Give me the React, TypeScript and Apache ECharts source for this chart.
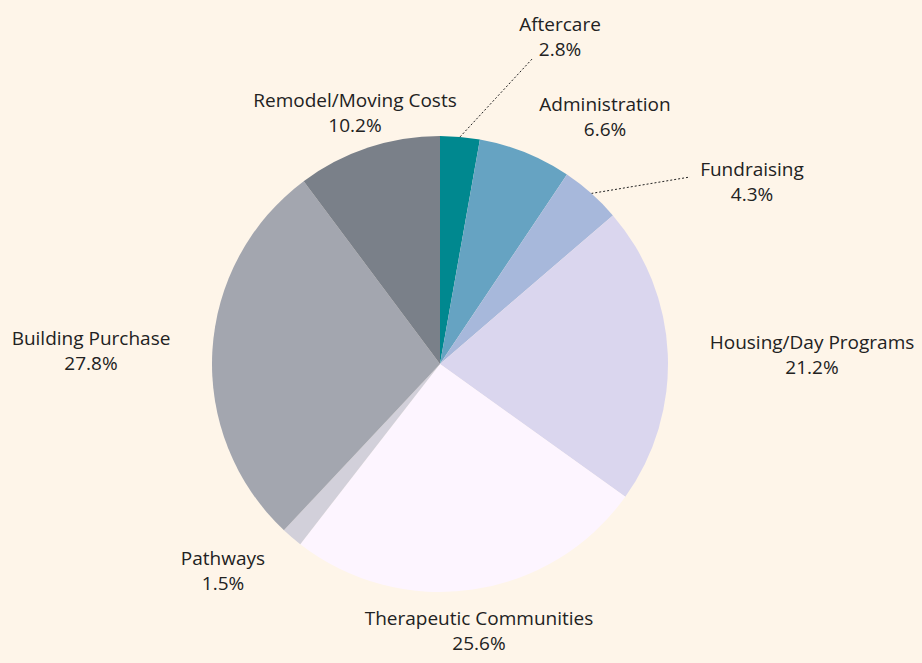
import React, { useEffect, useRef } from "react";
import * as echarts from "echarts";

const categories = [
  "Aftercare",
  "Administration",
  "Fundraising",
  "Housing/Day Programs",
  "Therapeutic Communities",
  "Pathways",
  "Building Purchase",
  "Remodel/Moving Costs",
];
const values = [2.8, 6.6, 4.3, 21.2, 25.6, 1.5, 27.8, 10.2];
const colors = ["#00888F", "#66A3C2", "#A7B8DB", "#DAD6EE", "#FDF5FF", "#D2D0DA", "#A3A6AF", "#7A8089"];
const showLine = [true, false, true, false, false, false, false, false];
// label anchor positions (centre of the two-line label)
const labelPos: [number, number][] = [
  [560, 36],
  [605, 116],
  [752, 181],
  [812, 354],
  [479, 630],
  [223, 570],
  [91, 350],
  [355, 112],
];
// leader line end points (label side)
const lineEnd: ([number, number] | null)[] = [[533, 58], null, [690, 177], null, null, null, null, null];

const CENTER: [number, number] = [440, 364];
const RADIUS = 228;

export default function App() {
  const ref = useRef<HTMLDivElement>(null);
  useEffect(() => {
    if (!ref.current) return;
    const chart = echarts.init(ref.current, null, { renderer: "svg" });
    const total = values.reduce((a, b) => a + b, 0);
    const midAngles: number[] = [];
    let acc = 0;
    values.forEach((v) => {
      midAngles.push(((acc + v / 2) / total) * 2 * Math.PI);
      acc += v;
    });
    chart.setOption({
      animation: false,
      backgroundColor: "#FEF5E9",
      series: [
        {
          type: "pie",
          center: CENTER,
          radius: RADIUS,
          startAngle: 90,
          clockwise: true,
          avoidLabelOverlap: false,
          data: categories.map((c, i) => ({
            name: c,
            value: values[i],
            itemStyle: { color: colors[i] },
            labelLine: { show: showLine[i] },
          })),
          label: {
            show: true,
            position: "outside",
            formatter: (p: any) => `${p.name}\n${p.value.toFixed(1)}%`,
            fontFamily: "Open Sans",
            fontSize: 19,
            lineHeight: 25,
            color: "#222222",
            align: "center",
          },
          labelLine: {
            show: false,
            lineStyle: { color: "#222222", width: 1, type: [2, 2] },
          },
          labelLayout: (params: any) => {
            const i = params.dataIndex;
            const [x, y] = labelPos[i];
            const out: any = { x, y, align: "center", verticalAlign: "middle" };
            const end = lineEnd[i];
            if (end) {
              const a = midAngles[i];
              const sx = CENTER[0] + RADIUS * Math.sin(a);
              const sy = CENTER[1] - RADIUS * Math.cos(a);
              out.labelLinePoints = [
                [sx, sy],
                [(sx + end[0]) / 2, (sy + end[1]) / 2],
                end,
              ];
            }
            return out;
          },
          emphasis: { disabled: true },
        },
      ],
    });
    return () => chart.dispose();
  }, []);
  return (
    <div
      ref={ref}
      style={{ position: "fixed", left: 0, top: 0, width: 922, height: 663 }}
    />
  );
}
